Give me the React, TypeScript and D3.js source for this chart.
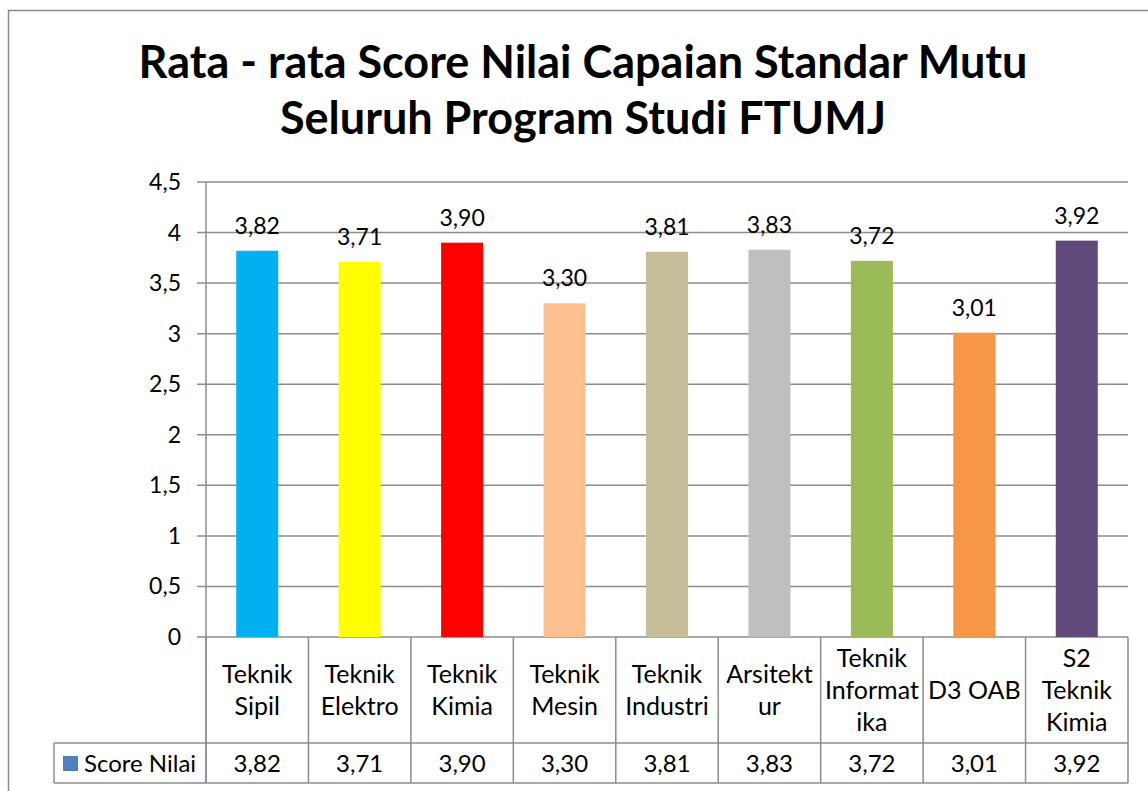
import { scaleBand, scaleLinear, range } from "d3";

const categories = [
  ["Teknik", "Sipil"],
  ["Teknik", "Elektro"],
  ["Teknik", "Kimia"],
  ["Teknik", "Mesin"],
  ["Teknik", "Industri"],
  ["Arsitekt", "ur"],
  ["Teknik", "Informat", "ika"],
  ["D3 OAB"],
  ["S2", "Teknik", "Kimia"],
];

const scores = [3.82, 3.71, 3.9, 3.3, 3.81, 3.83, 3.72, 3.01, 3.92];

const barColors = [
  "#00B0F0",
  "#FFFF00",
  "#FF0000",
  "#FAC090",
  "#C4BD97",
  "#BFBFBF",
  "#9BBB59",
  "#F79646",
  "#604A7B",
];

const yTicks = [0, 0.5, 1, 1.5, 2, 2.5, 3, 3.5, 4, 4.5];

const titleLines = [
  "Rata - rata Score Nilai Capaian Standar Mutu",
  "Seluruh Program Studi FTUMJ",
];

const seriesName = "Score Nilai";

const fmt = (v: number) => v.toFixed(2).replace(".", ",");
const fmtTick = (v: number) => String(v).replace(".", ",");

export default function App() {
  const width = 1148;
  const height = 791;
  const plot = { left: 206, right: 1128, top: 182, bottom: 637 };
  const tableMid = 743;
  const tableBottom = 783;
  const legendLeft = 54;
  const font = "Lato, 'Open Sans', sans-serif";
  const grid = "#8C8C8C";

  const x = scaleBand<number>()
    .domain(range(scores.length))
    .range([plot.left, plot.right])
    .paddingInner(0.59)
    .paddingOuter(0.295);

  const y = scaleLinear().domain([0, 4.5]).range([plot.bottom, plot.top]);

  const step = x.step();
  const colEdges = range(scores.length + 1).map((i) => plot.left + i * step);

  return (
    <>
      <style>{`body{margin:0}`}</style>
      <svg
        width={width}
        height={height}
        style={{ display: "block", background: "#fff" }}
        fontFamily={font}
      >
        <rect
          x={8.5}
          y={10.5}
          width={1160}
          height={800}
          fill="#fff"
          stroke="#898989"
          strokeWidth={1.5}
        />

        <g fontWeight={700} fontSize={45} textAnchor="middle" fill="#000">
          {titleLines.map((line, i) => (
            <text key={line} x={583} y={78 + i * 56}>
              {line}
            </text>
          ))}
        </g>

        <g stroke={grid} strokeWidth={1.5}>
          {yTicks.map((t) => (
            <line key={t} x1={plot.left - 9} x2={plot.right} y1={y(t)} y2={y(t)} />
          ))}
          <line x1={plot.left} x2={plot.left} y1={plot.top} y2={tableBottom} />
        </g>

        <g fontSize={23} textAnchor="end" fill="#000">
          {yTicks.map((t) => (
            <text key={t} x={181} y={y(t) + 8}>
              {fmtTick(t)}
            </text>
          ))}
        </g>

        <g>
          {scores.map((v, i) => (
            <rect
              key={i}
              x={x(i)}
              y={y(v)}
              width={x.bandwidth()}
              height={y(0) - y(v)}
              fill={barColors[i]}
            />
          ))}
        </g>

        <g fontSize={23} textAnchor="middle" fill="#000">
          {scores.map((v, i) => (
            <text key={i} x={(x(i) ?? 0) + x.bandwidth() / 2} y={y(v) - 17}>
              {fmt(v)}
            </text>
          ))}
        </g>

        <g stroke={grid} strokeWidth={1.5} fill="none">
          {colEdges.map((cx, i) => (
            <line key={i} x1={cx} x2={cx} y1={plot.bottom} y2={tableBottom} />
          ))}
          <line x1={legendLeft} x2={plot.right} y1={tableMid} y2={tableMid} />
          <line x1={legendLeft} x2={plot.right} y1={tableBottom} y2={tableBottom} />
          <line x1={legendLeft} x2={legendLeft} y1={tableMid} y2={tableBottom} />
        </g>

        <g fontSize={25} textAnchor="middle" fill="#000">
          {categories.map((lines, i) => {
            const cx = plot.left + (i + 0.5) * step;
            const lh = 32;
            const mid = (plot.bottom + tableMid) / 2;
            const first = mid - ((lines.length - 1) * lh) / 2;
            return (
              <text key={i} x={cx}>
                {lines.map((l, j) => (
                  <tspan key={j} x={cx} y={first + j * lh + 9}>
                    {l}
                  </tspan>
                ))}
              </text>
            );
          })}
        </g>

        <g fontSize={24} textAnchor="middle" fill="#000">
          {scores.map((v, i) => (
            <text
              key={i}
              x={plot.left + (i + 0.5) * step}
              y={(tableMid + tableBottom) / 2 + 8.5}
            >
              {fmt(v)}
            </text>
          ))}
        </g>

        <rect x={63} y={756} width={15} height={15} fill="#4F81BD" />
        <text x={84} y={771.5} fontSize={24} fill="#000">
          {seriesName}
        </text>
      </svg>
    </>
  );
}
